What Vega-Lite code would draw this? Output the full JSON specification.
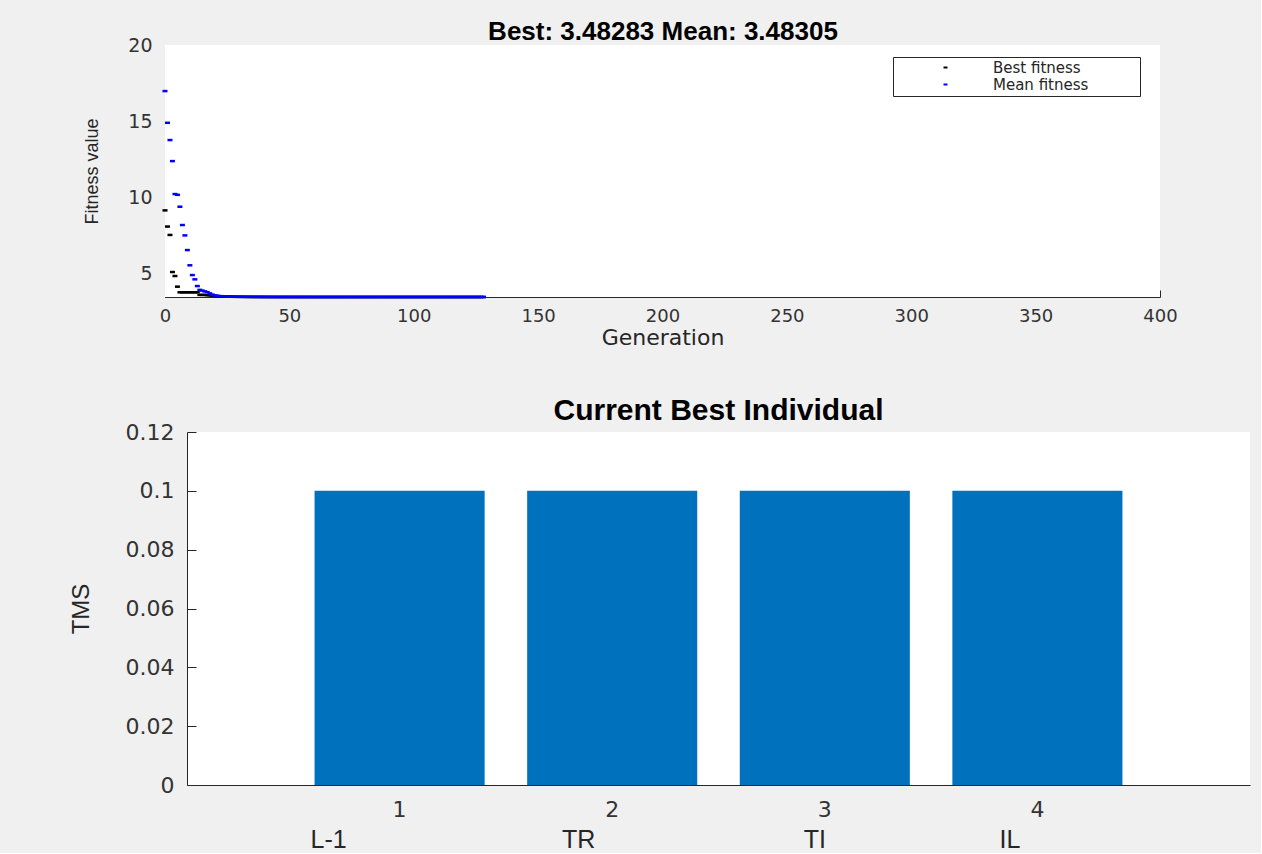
{
  "$schema": "https://vega.github.io/schema/vega-lite/v6.json",
  "background": "#f0f0f0",
  "padding": {"left": 69, "top": 18, "right": 11, "bottom": 1},
  "autosize": {"type": "pad"},
  "columns": 1,
  "spacing": 48,
  "config": {
    "view": {"stroke": null, "fill": "#ffffff"},
    "axis": {
      "grid": false,
      "domainColor": "#262626",
      "tickColor": "#262626",
      "labelColor": "#333333",
      "titleColor": "#262626",
      "labelFont": "DejaVu Sans",
      "titleFontWeight": "normal",
      "domainWidth": 1,
      "tickWidth": 1,
      "zindex": 1
    }
  },
  "concat": [
    {
      "width": 973,
      "height": 252,
      "view": {"fill": null, "stroke": null},
      "title": {"text": "Best: 3.48283 Mean: 3.48305", "font": "Liberation Sans", "fontSize": 26, "fontWeight": "bold", "color": "#000000", "frame": "group", "anchor": "middle", "baseline": "alphabetic", "offset": -29.5, "dx": -10.5},
      "data": {"values": [
        {"g":0,"Best fitness":9.16,"Mean fitness":16.98},
        {"g":1,"Best fitness":8.10,"Mean fitness":14.90},
        {"g":2,"Best fitness":7.55,"Mean fitness":13.77},
        {"g":3,"Best fitness":5.12,"Mean fitness":12.39},
        {"g":4,"Best fitness":4.86,"Mean fitness":10.23},
        {"g":5,"Best fitness":4.16,"Mean fitness":10.18},
        {"g":6,"Best fitness":3.79,"Mean fitness":9.40},
        {"g":7,"Best fitness":3.79,"Mean fitness":8.20},
        {"g":8,"Best fitness":3.79,"Mean fitness":7.52},
        {"g":9,"Best fitness":3.79,"Mean fitness":6.56},
        {"g":10,"Best fitness":3.79,"Mean fitness":5.56},
        {"g":11,"Best fitness":3.79,"Mean fitness":4.92},
        {"g":12,"Best fitness":3.79,"Mean fitness":4.64},
        {"g":13,"Best fitness":3.79,"Mean fitness":4.20},
        {"g":14,"Best fitness":3.62,"Mean fitness":3.95},
        {"g":15,"Best fitness":3.62,"Mean fitness":3.90},
        {"g":16,"Best fitness":3.62,"Mean fitness":3.85},
        {"g":17,"Best fitness":3.60,"Mean fitness":3.80},
        {"g":18,"Best fitness":3.59,"Mean fitness":3.72},
        {"g":19,"Best fitness":3.57,"Mean fitness":3.64},
        {"g":20,"Best fitness":3.55,"Mean fitness":3.59},
        {"g":21,"Best fitness":3.54,"Mean fitness":3.56},
        {"g":22,"Best fitness":3.53,"Mean fitness":3.545},
        {"g":23,"Best fitness":3.52,"Mean fitness":3.535},
        {"g":24,"Best fitness":3.51,"Mean fitness":3.525},
        {"g":25,"Best fitness":3.505,"Mean fitness":3.518},
        {"g":26,"Best fitness":3.50,"Mean fitness":3.512},
        {"g":27,"Best fitness":3.497,"Mean fitness":3.507},
        {"g":28,"Best fitness":3.495,"Mean fitness":3.503},
        {"g":29,"Best fitness":3.493,"Mean fitness":3.500},
        {"g":30,"Best fitness":3.491,"Mean fitness":3.499},
        {"g":31,"Best fitness":3.4900,"Mean fitness":3.4975},
        {"g":32,"Best fitness":3.4890,"Mean fitness":3.4962},
        {"g":33,"Best fitness":3.4882,"Mean fitness":3.4950},
        {"g":34,"Best fitness":3.4875,"Mean fitness":3.4938},
        {"g":35,"Best fitness":3.4868,"Mean fitness":3.4927},
        {"g":36,"Best fitness":3.4862,"Mean fitness":3.4917},
        {"g":37,"Best fitness":3.4857,"Mean fitness":3.4908},
        {"g":38,"Best fitness":3.4852,"Mean fitness":3.4899},
        {"g":39,"Best fitness":3.4848,"Mean fitness":3.4892},
        {"g":40,"Best fitness":3.4845,"Mean fitness":3.4886},
        {"g":41,"Best fitness":3.4842,"Mean fitness":3.4880},
        {"g":42,"Best fitness":3.4840,"Mean fitness":3.4875},
        {"g":43,"Best fitness":3.4838,"Mean fitness":3.4870},
        {"g":44,"Best fitness":3.4836,"Mean fitness":3.4866},
        {"g":45,"Best fitness":3.4834,"Mean fitness":3.4862},
        {"g":46,"Best fitness":3.4833,"Mean fitness":3.4858},
        {"g":47,"Best fitness":3.4832,"Mean fitness":3.4855},
        {"g":48,"Best fitness":3.4831,"Mean fitness":3.4852},
        {"g":49,"Best fitness":3.4830,"Mean fitness":3.4849},
        {"g":50,"Best fitness":3.4830,"Mean fitness":3.4847},
        {"g":51,"Best fitness":3.48295,"Mean fitness":3.4845},
        {"g":52,"Best fitness":3.48295,"Mean fitness":3.4843},
        {"g":53,"Best fitness":3.48295,"Mean fitness":3.4842},
        {"g":54,"Best fitness":3.48295,"Mean fitness":3.4840},
        {"g":55,"Best fitness":3.48295,"Mean fitness":3.4839},
        {"g":56,"Best fitness":3.48295,"Mean fitness":3.4838},
        {"g":57,"Best fitness":3.48295,"Mean fitness":3.4837},
        {"g":58,"Best fitness":3.48295,"Mean fitness":3.4836},
        {"g":59,"Best fitness":3.48295,"Mean fitness":3.4835},
        {"g":60,"Best fitness":3.48295,"Mean fitness":3.4834},
        {"g":61,"Best fitness":3.48295,"Mean fitness":3.4834},
        {"g":62,"Best fitness":3.48295,"Mean fitness":3.4833},
        {"g":63,"Best fitness":3.48295,"Mean fitness":3.4833},
        {"g":64,"Best fitness":3.48295,"Mean fitness":3.4832},
        {"g":65,"Best fitness":3.48295,"Mean fitness":3.4832},
        {"g":66,"Best fitness":3.48295,"Mean fitness":3.4832},
        {"g":67,"Best fitness":3.48295,"Mean fitness":3.4831},
        {"g":68,"Best fitness":3.48295,"Mean fitness":3.4831},
        {"g":69,"Best fitness":3.48295,"Mean fitness":3.4831},
        {"g":70,"Best fitness":3.48295,"Mean fitness":3.4831},
        {"g":71,"Best fitness":3.4829,"Mean fitness":3.4831},
        {"g":72,"Best fitness":3.4829,"Mean fitness":3.4831},
        {"g":73,"Best fitness":3.4829,"Mean fitness":3.4831},
        {"g":74,"Best fitness":3.4829,"Mean fitness":3.4831},
        {"g":75,"Best fitness":3.4829,"Mean fitness":3.4831},
        {"g":76,"Best fitness":3.4829,"Mean fitness":3.4831},
        {"g":77,"Best fitness":3.4829,"Mean fitness":3.4831},
        {"g":78,"Best fitness":3.4829,"Mean fitness":3.4831},
        {"g":79,"Best fitness":3.4829,"Mean fitness":3.4831},
        {"g":80,"Best fitness":3.4829,"Mean fitness":3.4831},
        {"g":81,"Best fitness":3.4829,"Mean fitness":3.4831},
        {"g":82,"Best fitness":3.4829,"Mean fitness":3.4831},
        {"g":83,"Best fitness":3.4829,"Mean fitness":3.4831},
        {"g":84,"Best fitness":3.4829,"Mean fitness":3.4831},
        {"g":85,"Best fitness":3.4829,"Mean fitness":3.4831},
        {"g":86,"Best fitness":3.4829,"Mean fitness":3.48309},
        {"g":87,"Best fitness":3.4829,"Mean fitness":3.48309},
        {"g":88,"Best fitness":3.4829,"Mean fitness":3.48309},
        {"g":89,"Best fitness":3.4829,"Mean fitness":3.48309},
        {"g":90,"Best fitness":3.4829,"Mean fitness":3.48309},
        {"g":91,"Best fitness":3.48286,"Mean fitness":3.48309},
        {"g":92,"Best fitness":3.48286,"Mean fitness":3.48309},
        {"g":93,"Best fitness":3.48286,"Mean fitness":3.48309},
        {"g":94,"Best fitness":3.48286,"Mean fitness":3.48309},
        {"g":95,"Best fitness":3.48286,"Mean fitness":3.48309},
        {"g":96,"Best fitness":3.48286,"Mean fitness":3.48309},
        {"g":97,"Best fitness":3.48286,"Mean fitness":3.48309},
        {"g":98,"Best fitness":3.48286,"Mean fitness":3.48309},
        {"g":99,"Best fitness":3.48286,"Mean fitness":3.48309},
        {"g":100,"Best fitness":3.48286,"Mean fitness":3.48309},
        {"g":101,"Best fitness":3.48286,"Mean fitness":3.48307},
        {"g":102,"Best fitness":3.48286,"Mean fitness":3.48307},
        {"g":103,"Best fitness":3.48286,"Mean fitness":3.48307},
        {"g":104,"Best fitness":3.48286,"Mean fitness":3.48307},
        {"g":105,"Best fitness":3.48286,"Mean fitness":3.48307},
        {"g":106,"Best fitness":3.48286,"Mean fitness":3.48307},
        {"g":107,"Best fitness":3.48286,"Mean fitness":3.48307},
        {"g":108,"Best fitness":3.48286,"Mean fitness":3.48307},
        {"g":109,"Best fitness":3.48286,"Mean fitness":3.48307},
        {"g":110,"Best fitness":3.48286,"Mean fitness":3.48307},
        {"g":111,"Best fitness":3.48283,"Mean fitness":3.48307},
        {"g":112,"Best fitness":3.48283,"Mean fitness":3.48307},
        {"g":113,"Best fitness":3.48283,"Mean fitness":3.48307},
        {"g":114,"Best fitness":3.48283,"Mean fitness":3.48307},
        {"g":115,"Best fitness":3.48283,"Mean fitness":3.48307},
        {"g":116,"Best fitness":3.48283,"Mean fitness":3.48305},
        {"g":117,"Best fitness":3.48283,"Mean fitness":3.48305},
        {"g":118,"Best fitness":3.48283,"Mean fitness":3.48305},
        {"g":119,"Best fitness":3.48283,"Mean fitness":3.48305},
        {"g":120,"Best fitness":3.48283,"Mean fitness":3.48305},
        {"g":121,"Best fitness":3.48283,"Mean fitness":3.48305},
        {"g":122,"Best fitness":3.48283,"Mean fitness":3.48305},
        {"g":123,"Best fitness":3.48283,"Mean fitness":3.48305},
        {"g":124,"Best fitness":3.48283,"Mean fitness":3.48305},
        {"g":125,"Best fitness":3.48283,"Mean fitness":3.48305},
        {"g":126,"Best fitness":3.48283,"Mean fitness":3.48305},
        {"g":127,"Best fitness":3.48283,"Mean fitness":3.48305},
        {"g":128,"Best fitness":3.48283,"Mean fitness":3.48305}
      ]},
      "layer": [
        {
          "data": {"values": [{}]},
          "mark": {"type": "rect", "color": "#ffffff"},
          "encoding": {
            "x": {"datum": 0, "type": "quantitative"},
            "x2": {"datum": 400},
            "y": {"datum": 3.48283, "type": "quantitative"},
            "y2": {"datum": 20}
          }
        },
        {
          "transform": [{"fold": ["Best fitness", "Mean fitness"], "as": ["series", "fitness"]}],
          "mark": {"type": "point", "filled": true, "shape": "M-1,-0.5L1,-0.5L1,0.5L-1,0.5Z", "size": 25, "opacity": 1, "strokeWidth": 0, "clip": false},
          "encoding": {
            "x": {"field": "g", "type": "quantitative"},
            "y": {"field": "fitness", "type": "quantitative"},
            "color": {
              "field": "series", "type": "nominal",
              "scale": {"domain": ["Best fitness", "Mean fitness"], "range": ["#000000", "#0000ff"]},
              "legend": {"title": null, "orient": "none", "legendX": 706, "legendY": 12, "padding": 3, "strokeColor": "#262626", "fillColor": "#ffffff", "symbolOffset": 42, "labelOffset": 40, "labelFont": "DejaVu Sans", "labelFontSize": 15, "labelColor": "#262626", "labelLimit": 0, "rowPadding": 1, "symbolType": "M-1,-0.5L1,-0.5L1,0.5L-1,0.5Z", "symbolSize": 16, "symbolStrokeWidth": 0, "labelExpr": "datum.label + '\u00a0\u00a0\u00a0\u00a0\u00a0\u00a0\u00a0\u00a0\u00a0\u00a0\u200b'"}
            },
            "order": {"field": "series"}
          }
        }
      ],
      "resolve": {"scale": {"x": "shared", "y": "shared"}},
      "encoding": {
        "x": {
          "type": "quantitative",
          "scale": {"domain": [0, 400], "nice": false, "range": [-22, 973]},
          "axis": {"title": "Generation", "values": [0, 50, 100, 150, 200, 250, 300, 350, 400], "labelFontSize": 18, "tickSize": -7, "labelPadding": 17, "labelFlush": false, "titleFont": "DejaVu Sans", "titleFontSize": 22, "titlePadding": 2}
        },
        "y": {
          "type": "quantitative",
          "scale": {"domain": [3.48283, 20], "nice": false, "zero": false},
          "axis": {"title": "Fitness value", "offset": 22, "values": [5, 10, 15, 20], "labelFontSize": 19, "tickSize": -7, "labelPadding": 20, "labelFlush": false, "titleFont": "Liberation Sans", "titleFontSize": 18, "titleAngle": 270, "titleBaseline": "alphabetic", "titlePadding": 30}
        }
      }
    },
    {
      "width": 1063,
      "height": 353,
      "title": {"text": "Current Best Individual", "font": "Liberation Sans", "fontSize": 30, "fontWeight": "bold", "color": "#000000", "frame": "group", "anchor": "middle", "baseline": "alphabetic", "offset": -29},
      "data": {"values": [
        {"i": 1, "param": "L-1", "tms": 0.1},
        {"i": 2, "param": "TR", "tms": 0.1},
        {"i": 3, "param": "TI", "tms": 0.1},
        {"i": 4, "param": "IL", "tms": 0.1}
      ]},
      "mark": {"type": "bar", "color": "#0072bd"},
      "encoding": {
        "x": {
          "field": "i", "type": "ordinal",
          "scale": {"paddingInner": 0.2, "paddingOuter": 0.6},
          "axis": {"labelAngle": 0, "labelFontSize": 22, "tickSize": -9, "labelPadding": 23, "title": "L-1\u00a0\u00a0\u00a0\u00a0\u00a0\u00a0\u00a0\u00a0\u00a0\u00a0\u00a0\u00a0\u00a0\u00a0\u00a0\u00a0\u00a0\u00a0\u00a0\u00a0\u00a0\u00a0\u00a0\u00a0\u00a0\u00a0\u00a0\u00a0\u00a0\u00a0\u00a0TR\u00a0\u00a0\u00a0\u00a0\u00a0\u00a0\u00a0\u00a0\u00a0\u00a0\u00a0\u00a0\u00a0\u00a0\u00a0\u00a0\u00a0\u00a0\u00a0\u00a0\u00a0\u00a0\u00a0\u00a0\u00a0\u00a0\u00a0\u00a0\u00a0\u00a0TI\u00a0\u00a0\u00a0\u00a0\u00a0\u00a0\u00a0\u00a0\u00a0\u00a0\u00a0\u00a0\u00a0\u00a0\u00a0\u00a0\u00a0\u00a0\u00a0\u00a0\u00a0\u00a0\u00a0\u00a0\u00a0IL", "titleFont": "Liberation Sans", "titleFontSize": 25, "titleAlign": "left", "titleAnchor": "start", "titleBaseline": "top", "titleX": 123, "titleY": 42}
        },
        "y": {
          "field": "tms", "type": "quantitative",
          "scale": {"domain": [0, 0.12], "nice": false},
          "axis": {"title": "TMS", "values": [0, 0.02, 0.04, 0.06, 0.08, 0.1, 0.12], "format": ".2~f", "labelFontSize": 22, "tickSize": -9, "labelPadding": 22, "labelFlush": false, "titleFont": "Liberation Sans", "titleFontSize": 24, "titleAngle": 270, "titleBaseline": "alphabetic", "titlePadding": 37}
        }
      }
    }
  ]
}
